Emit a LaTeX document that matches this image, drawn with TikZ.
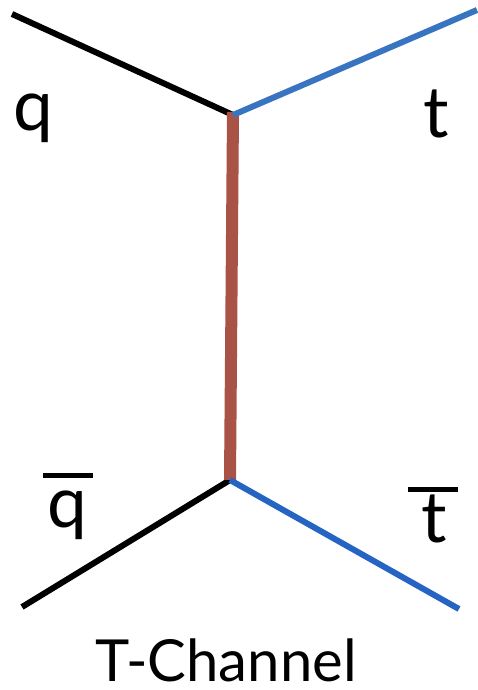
\documentclass[tikz,border=0pt]{standalone}
\usepackage{fontspec}
\setmainfont{Lato}
\definecolor{topblue}{RGB}{56,116,192}
\definecolor{botblue}{RGB}{38,100,196}
\definecolor{prop}{RGB}{168,83,70}
\begin{document}
\begin{tikzpicture}[x=1pt,y=-1pt,
  fermion/.style={line width=6pt,black},
  topq/.style={line width=6pt,topblue},
  botq/.style={line width=6pt,botblue},
  propagator/.style={line width=12pt,prop},
  lbl/.style={anchor=base,inner sep=0pt,font=\fontsize{71}{71}\selectfont},
  captiontext/.style={anchor=base,inner sep=0pt,text depth=0pt,font=\fontsize{58}{58}\selectfont},
  barline/.style={line width=5pt,black}]
\useasboundingbox (0,0) rectangle (478,690);
\coordinate (a1) at (12,14);
\coordinate (b1) at (477,10);
\coordinate (v1) at (233,115);
\coordinate (v1top) at (233,112);
\coordinate (v2) at (230,480);
\coordinate (a2) at (22,607);
\coordinate (b2) at (459,609);
\draw[fermion] (a1) -- (v1);
\draw[fermion] (v2) -- (a2);
\draw[propagator] (v1top) -- (v2);
\draw[topq] (v1) -- (b1);
\draw[botq] (v2) -- (b2);
\node[lbl] (q) at (33,131) {q};
\node[lbl] (t) at (436,137) {t};
\node[lbl] (qb) at (67,527) {q};
\node[lbl] (tb) at (434,542) {t};
\draw[barline] ([xshift=-24pt,yshift=51.5pt]qb.base) -- ([xshift=26pt,yshift=51.5pt]qb.base);
\draw[barline] ([xshift=-26pt,yshift=52.5pt]tb.base) -- ([xshift=24pt,yshift=52.5pt]tb.base);
\node[captiontext] (title) at (226,681) {T-Channel};
\end{tikzpicture}
\end{document}
